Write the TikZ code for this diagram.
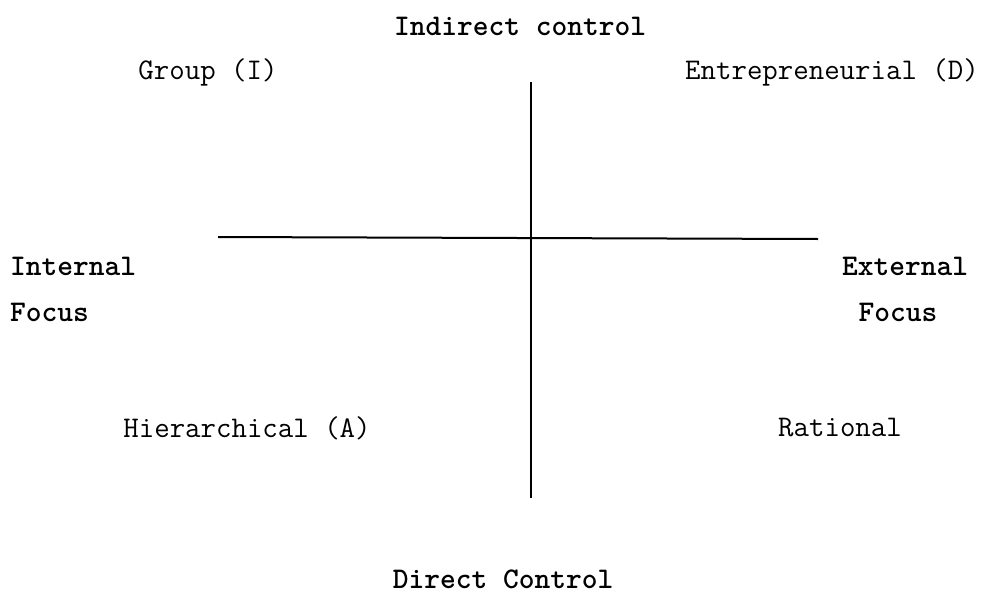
\documentclass[tikz,border=0pt]{standalone}
\usepackage{fontspec}
\begin{document}
\begin{tikzpicture}[x=1pt,y=-1pt,
  lbl/.style={inner sep=0pt,font=\ttfamily\fontsize{30}{34}\selectfont},
  head/.style={inner sep=0pt,font=\ttfamily\bfseries\fontsize{30}{34}\selectfont},
  axis/.style={line width=2pt,black}]
  \useasboundingbox[fill=white] (0,0) rectangle (985,608);
  % axes
  \coordinate (hl) at (218,237);
  \coordinate (hr) at (818,239);
  \coordinate (vt) at (531,82);
  \coordinate (vb) at (531,498);
  \draw[axis] (hl) -- (hr);
  \draw[axis] (vt) -- (vb);
  % axis headings
  \node[head] (top) at (520,26) {Indirect control};
  \node[head] (bottom) at (503,579) {Direct Control};
  \node[head,anchor=west] (int1) at (10,266) {Internal};
  \node[head,anchor=west] (int2) at (10,312) {Focus};
  \node[head] (ext1) at (905,266) {External};
  \node[head] (ext2) at (898,312) {Focus};
  % quadrant labels
  \node[lbl] (q1) at (208,72) {Group (I)};
  \node[lbl] (q2) at (832,72) {Entrepreneurial (D)};
  \node[lbl] (q3) at (247,428) {Hierarchical (A)};
  \node[lbl] (q4) at (840,428) {Rational};
\end{tikzpicture}
\end{document}
